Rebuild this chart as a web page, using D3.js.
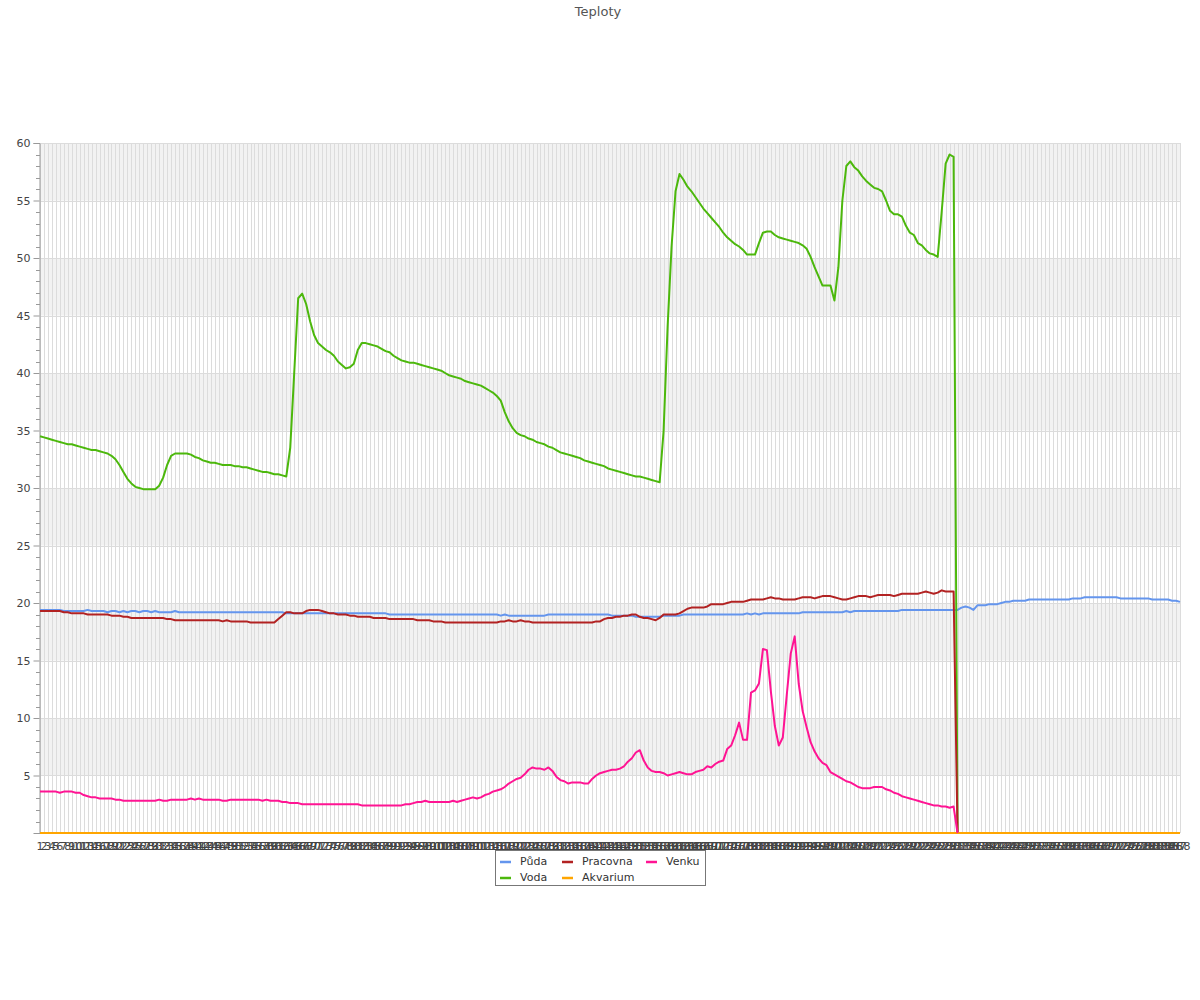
<!DOCTYPE html>
<html><head><meta charset="utf-8">
<script src="https://cdn.jsdelivr.net/npm/d3@7/dist/d3.min.js"></script>
<style>body{margin:0;background:#fff;font-family:"DejaVu Sans",sans-serif;}</style>
</head><body><div id="chart"></div>
<script>
const title = "Teploty";
const categories = d3.range(1, 289);
const seriesNames = ["Půda", "Voda", "Pracovna", "Akvarium", "Venku"];
const seriesColors = ["#6495ed", "#4cb80c", "#b22222", "#ffa500", "#ff1493"];
const yTicks = [5,10,15,20,25,30,35,40,45,50,55,60];

const puda = [
19.4,19.4,19.4,19.4,19.4,19.4,19.3,19.3,19.3,19.3,
19.3,19.3,19.4,19.3,19.3,19.3,19.3,19.2,19.3,19.3,
19.2,19.3,19.2,19.3,19.3,19.2,19.3,19.3,19.2,19.3,
19.2,19.2,19.2,19.2,19.3,19.2,19.2,19.2,19.2,19.2,
19.2,19.2,19.2,19.2,19.2,19.2,19.2,19.2,19.2,19.2,
19.2,19.2,19.2,19.2,19.2,19.2,19.2,19.2,19.2,19.2,
19.2,19.2,19.1,19.1,19.1,19.1,19.1,19.1,19.1,19.1,
19.1,19.1,19.1,19.1,19.1,19.1,19.1,19.1,19.1,19.1,
19.1,19.1,19.1,19.1,19.1,19.1,19.1,19.1,19.0,19.0,
19.0,19.0,19.0,19.0,19.0,19.0,19.0,19.0,19.0,19.0,
19.0,19.0,19.0,19.0,19.0,19.0,19.0,19.0,19.0,19.0,
19.0,19.0,19.0,19.0,19.0,19.0,18.9,19.0,18.9,18.9,
18.9,18.9,18.9,18.9,18.9,18.9,18.9,18.9,19.0,19.0,
19.0,19.0,19.0,19.0,19.0,19.0,19.0,19.0,19.0,19.0,
19.0,19.0,19.0,19.0,18.9,18.9,18.9,18.9,18.9,18.9,
18.8,18.8,18.8,18.8,18.8,18.8,18.8,18.9,18.9,18.9,
18.9,18.9,19.0,19.0,19.0,19.0,19.0,19.0,19.0,19.0,
19.0,19.0,19.0,19.0,19.0,19.0,19.0,19.0,19.1,19.0,
19.1,19.0,19.1,19.1,19.1,19.1,19.1,19.1,19.1,19.1,
19.1,19.1,19.2,19.2,19.2,19.2,19.2,19.2,19.2,19.2,
19.2,19.2,19.2,19.3,19.2,19.3,19.3,19.3,19.3,19.3,
19.3,19.3,19.3,19.3,19.3,19.3,19.3,19.4,19.4,19.4,
19.4,19.4,19.4,19.4,19.4,19.4,19.4,19.4,19.4,19.4,
19.4,19.4,19.6,19.7,19.6,19.4,19.8,19.8,19.8,19.9,
19.9,19.9,20.0,20.1,20.1,20.2,20.2,20.2,20.2,20.3,
20.3,20.3,20.3,20.3,20.3,20.3,20.3,20.3,20.3,20.3,
20.4,20.4,20.4,20.5,20.5,20.5,20.5,20.5,20.5,20.5,
20.5,20.5,20.4,20.4,20.4,20.4,20.4,20.4,20.4,20.4,
20.3,20.3,20.3,20.3,20.3,20.2,20.2,20.1];

const voda = [
34.5,34.4,34.3,34.2,34.1,34.0,33.9,33.8,33.8,33.7,
33.6,33.5,33.4,33.3,33.3,33.2,33.1,33.0,32.8,32.5,
32.0,31.4,30.8,30.4,30.1,30.0,29.9,29.9,29.9,29.9,
30.2,30.9,32.0,32.8,33.0,33.0,33.0,33.0,32.9,32.7,
32.6,32.4,32.3,32.2,32.2,32.1,32.0,32.0,32.0,31.9,
31.9,31.8,31.8,31.7,31.6,31.5,31.4,31.4,31.3,31.2,
31.2,31.1,31.0,33.5,40.0,46.5,46.9,46.0,44.5,43.3,
42.6,42.3,42.0,41.8,41.5,41.0,40.7,40.4,40.5,40.8,
42.0,42.6,42.6,42.5,42.4,42.3,42.1,41.9,41.8,41.5,
41.3,41.1,41.0,40.9,40.9,40.8,40.7,40.6,40.5,40.4,
40.3,40.2,40.0,39.8,39.7,39.6,39.5,39.3,39.2,39.1,
39.0,38.9,38.7,38.5,38.3,38.0,37.6,36.6,35.8,35.2,
34.8,34.6,34.5,34.3,34.2,34.0,33.9,33.8,33.6,33.5,
33.3,33.1,33.0,32.9,32.8,32.7,32.6,32.4,32.3,32.2,
32.1,32.0,31.9,31.7,31.6,31.5,31.4,31.3,31.2,31.1,
31.0,31.0,30.9,30.8,30.7,30.6,30.5,35.0,44.0,51.0,
55.8,57.3,56.8,56.2,55.8,55.3,54.8,54.3,53.9,53.5,
53.1,52.7,52.2,51.8,51.5,51.2,51.0,50.7,50.3,50.3,
50.3,51.3,52.2,52.3,52.3,52.0,51.8,51.7,51.6,51.5,
51.4,51.3,51.1,50.8,50.1,49.2,48.4,47.6,47.6,47.6,
46.3,49.2,55.0,58.0,58.4,57.9,57.6,57.1,56.7,56.4,
56.1,56.0,55.8,55.0,54.1,53.8,53.8,53.6,52.8,52.2,
52.0,51.3,51.1,50.7,50.4,50.3,50.1,54.0,58.2,59.0,
58.8,0];

const pracovna = [
19.3,19.3,19.3,19.3,19.3,19.3,19.2,19.2,19.1,19.1,
19.1,19.1,19.0,19.0,19.0,19.0,19.0,19.0,18.9,18.9,
18.9,18.8,18.8,18.7,18.7,18.7,18.7,18.7,18.7,18.7,
18.7,18.7,18.6,18.6,18.5,18.5,18.5,18.5,18.5,18.5,
18.5,18.5,18.5,18.5,18.5,18.5,18.4,18.5,18.4,18.4,
18.4,18.4,18.4,18.3,18.3,18.3,18.3,18.3,18.3,18.3,
18.6,18.9,19.2,19.2,19.1,19.1,19.1,19.3,19.4,19.4,
19.4,19.3,19.2,19.1,19.1,19.0,19.0,19.0,18.9,18.9,
18.8,18.8,18.8,18.8,18.7,18.7,18.7,18.7,18.6,18.6,
18.6,18.6,18.6,18.6,18.6,18.5,18.5,18.5,18.5,18.4,
18.4,18.4,18.3,18.3,18.3,18.3,18.3,18.3,18.3,18.3,
18.3,18.3,18.3,18.3,18.3,18.3,18.4,18.4,18.5,18.4,
18.4,18.5,18.4,18.4,18.3,18.3,18.3,18.3,18.3,18.3,
18.3,18.3,18.3,18.3,18.3,18.3,18.3,18.3,18.3,18.3,
18.4,18.4,18.6,18.7,18.7,18.8,18.8,18.9,18.9,19.0,
19.0,18.8,18.7,18.7,18.6,18.5,18.7,19.0,19.0,19.0,
19.0,19.1,19.3,19.5,19.6,19.6,19.6,19.6,19.7,19.9,
19.9,19.9,19.9,20.0,20.1,20.1,20.1,20.1,20.2,20.3,
20.3,20.3,20.3,20.4,20.5,20.4,20.4,20.3,20.3,20.3,
20.3,20.4,20.5,20.5,20.5,20.4,20.5,20.6,20.6,20.6,
20.5,20.4,20.3,20.3,20.4,20.5,20.6,20.6,20.6,20.5,
20.6,20.7,20.7,20.7,20.7,20.6,20.7,20.8,20.8,20.8,
20.8,20.8,20.9,21.0,20.9,20.8,20.9,21.1,21.0,21.0,
21.0,0];

const akvarium = [
0,0,0,0,0,0,0,0,0,0,0,0,0,0,0,0,0,0,0,0,0,0,0,0,
0,0,0,0,0,0,0,0,0,0,0,0,0,0,0,0,0,0,0,0,0,0,0,0,
0,0,0,0,0,0,0,0,0,0,0,0,0,0,0,0,0,0,0,0,0,0,0,0,
0,0,0,0,0,0,0,0,0,0,0,0,0,0,0,0,0,0,0,0,0,0,0,0,
0,0,0,0,0,0,0,0,0,0,0,0,0,0,0,0,0,0,0,0,0,0,0,0,
0,0,0,0,0,0,0,0,0,0,0,0,0,0,0,0,0,0,0,0,0,0,0,0,
0,0,0,0,0,0,0,0,0,0,0,0,0,0,0,0,0,0,0,0,0,0,0,0,
0,0,0,0,0,0,0,0,0,0,0,0,0,0,0,0,0,0,0,0,0,0,0,0,
0,0,0,0,0,0,0,0,0,0,0,0,0,0,0,0,0,0,0,0,0,0,0,0,
0,0,0,0,0,0,0,0,0,0,0,0,0,0,0,0,0,0,0,0,0,0,0,0,
0,0,0,0,0,0,0,0,0,0,0,0,0,0,0,0,0,0,0,0,0,0,0,0,
0,0,0,0,0,0,0,0,0,0,0,0,0,0,0,0,0,0,0,0,0,0,0,0];

const venku = [
3.6,3.6,3.6,3.6,3.6,3.5,3.6,3.6,3.6,3.5,
3.5,3.3,3.2,3.1,3.1,3.0,3.0,3.0,3.0,2.9,
2.9,2.8,2.8,2.8,2.8,2.8,2.8,2.8,2.8,2.8,
2.9,2.8,2.8,2.9,2.9,2.9,2.9,2.9,3.0,2.9,
3.0,2.9,2.9,2.9,2.9,2.9,2.8,2.8,2.9,2.9,
2.9,2.9,2.9,2.9,2.9,2.9,2.8,2.9,2.8,2.8,
2.8,2.7,2.7,2.6,2.6,2.6,2.5,2.5,2.5,2.5,
2.5,2.5,2.5,2.5,2.5,2.5,2.5,2.5,2.5,2.5,
2.5,2.4,2.4,2.4,2.4,2.4,2.4,2.4,2.4,2.4,
2.4,2.4,2.5,2.5,2.6,2.7,2.7,2.8,2.7,2.7,
2.7,2.7,2.7,2.7,2.8,2.7,2.8,2.9,3.0,3.1,
3.0,3.1,3.3,3.4,3.6,3.7,3.8,4.0,4.3,4.5,
4.7,4.8,5.1,5.5,5.7,5.6,5.6,5.5,5.7,5.4,
4.9,4.6,4.5,4.3,4.4,4.4,4.4,4.3,4.3,4.7,
5.0,5.2,5.3,5.4,5.5,5.5,5.6,5.8,6.2,6.5,
7.0,7.2,6.3,5.7,5.4,5.3,5.3,5.2,5.0,5.1,
5.2,5.3,5.2,5.1,5.1,5.3,5.4,5.5,5.8,5.7,
6.0,6.2,6.3,7.3,7.6,8.5,9.6,8.1,8.1,12.2,
12.4,13.0,16.0,15.9,12.3,9.3,7.6,8.3,12.0,15.6,
17.1,13.0,10.6,9.2,7.9,7.1,6.5,6.1,5.9,5.3,
5.1,4.9,4.7,4.5,4.4,4.2,4.0,3.9,3.9,3.9,
4.0,4.0,4.0,3.8,3.7,3.5,3.4,3.2,3.1,3.0,
2.9,2.8,2.7,2.6,2.5,2.4,2.4,2.3,2.3,2.2,
2.3,0];

const seriesData = [puda, voda, pracovna, akvarium, venku];

const W = 1200, H = 1000;
const L = 40, R = 1180, T = 143, B = 833;
const svg = d3.select("#chart").append("svg").attr("width", W).attr("height", H)
  .style("font-family", '"DejaVu Sans", sans-serif');

const x = d3.scaleLinear().domain([1, categories.length]).range([L, R]);
const y = d3.scaleLinear().domain([0, 60]).range([B, T]);

// bands
const bands = d3.range(0, 60, 5).filter(v => (v / 5) % 2 === 1);
svg.append("g").selectAll("rect").data(bands).join("rect")
  .attr("x", L).attr("width", R - L)
  .attr("y", d => y(d + 5)).attr("height", d => y(d) - y(d + 5))
  .attr("fill", "#f2f2f2");

// vertical grid
svg.append("g").selectAll("line").data(categories).join("line")
  .attr("x1", d => Math.round(x(d)) + 0.5).attr("x2", d => Math.round(x(d)) + 0.5)
  .attr("y1", T).attr("y2", B)
  .attr("stroke", "#dcdcdc").attr("stroke-width", 1);

// horizontal grid
svg.append("g").selectAll("line").data(yTicks).join("line")
  .attr("x1", L).attr("x2", R)
  .attr("y1", d => Math.round(y(d)) + 0.5).attr("y2", d => Math.round(y(d)) + 0.5)
  .attr("stroke", "#dcdcdc").attr("stroke-width", 1);

// y axis
const yAxis = d3.axisLeft(y).tickValues(yTicks).tickSize(6).tickPadding(3);
const gy = svg.append("g").attr("transform", `translate(${L - 0.5},0)`).call(yAxis);
gy.select(".domain").attr("stroke", "#999");
gy.selectAll(".tick line").attr("stroke", "#999");
gy.selectAll("text").attr("fill", "#444").style("font-size", "11px").style("font-family", '"DejaVu Sans", sans-serif');
// minor ticks
svg.append("g").selectAll("line").data(d3.range(1, 60).filter(v => v % 5 !== 0)).join("line")
  .attr("x1", L - 4).attr("x2", L)
  .attr("y1", d => Math.round(y(d)) + 0.5).attr("y2", d => Math.round(y(d)) + 0.5)
  .attr("stroke", "#999");

// x axis
svg.append("line").attr("x1", L - 5).attr("x2", R).attr("y1", B + 0.5).attr("y2", B + 0.5).attr("stroke", "#999");
svg.append("g").selectAll("text").data(categories).join("text")
  .attr("x", d => x(d)).attr("y", B + 17)
  .attr("text-anchor", "middle").attr("fill", "#444").style("font-size", "11px")
  .text(d => d);

// lines
const line = d3.line().x((d, i) => x(categories[i])).y(d => y(d));
svg.append("g").selectAll("path").data(seriesData).join("path")
  .attr("d", d => line(d))
  .attr("fill", "none")
  .attr("stroke", (d, i) => seriesColors[i])
  .attr("stroke-width", 2)
  .attr("stroke-linejoin", "round");

// title
svg.append("text").attr("x", 598).attr("y", 16).attr("text-anchor", "middle")
  .attr("fill", "#555").style("font-size", "13px").text(title);

// legend
const lg = svg.append("g");
lg.append("rect").attr("x", 495.5).attr("y", 850.5).attr("width", 210).attr("height", 35)
  .attr("fill", "#fff").attr("stroke", "#777");
const colX = [500, 562, 646];
const rowY = [861, 877];
seriesNames.forEach((name, i) => {
  const col = Math.floor(i / 2), row = i % 2;
  lg.append("line").attr("x1", colX[col]).attr("x2", colX[col] + 11)
    .attr("y1", rowY[row] + 1).attr("y2", rowY[row] + 1)
    .attr("stroke", seriesColors[i]).attr("stroke-width", 2.5);
  lg.append("text").attr("x", colX[col] + 20).attr("y", rowY[row] + 4)
    .attr("fill", "#333").style("font-size", "11px").text(name);
});
</script></body></html>
